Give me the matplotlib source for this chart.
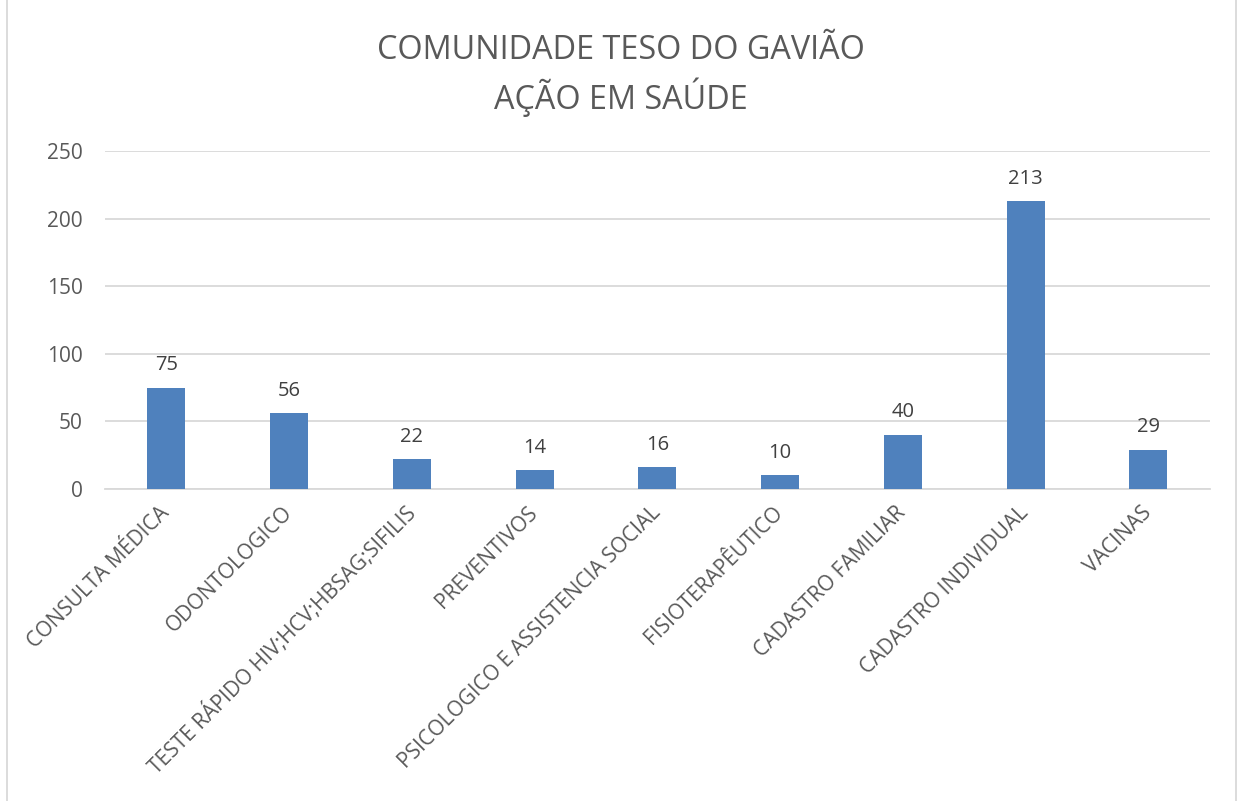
import matplotlib.pyplot as plt
from matplotlib.patches import Rectangle

categories = ['CONSULTA MÉDICA', 'ODONTOLOGICO', 'TESTE RÁPIDO HIV;HCV;HBSAG;SIFILIS',
              'PREVENTIVOS', 'PSICOLOGICO E ASSISTENCIA SOCIAL', 'FISIOTERAPÊUTICO',
              'CADASTRO FAMILIAR', 'CADASTRO INDIVIDUAL', 'VACINAS']
values = [75, 56, 22, 14, 16, 10, 40, 213, 29]
yticks = [0, 50, 100, 150, 200, 250]

plt.rcParams['font.family'] = ['Open Sans', 'DejaVu Sans']
text_color = '#595959'
grid_color = '#d9d9d9'
bar_color = '#4f81bd'

fig = plt.figure(figsize=(12.42, 8.01), dpi=100)
ax = fig.add_axes([0.0845, 0.3895, 0.8895, 0.422])

x = range(len(categories))
bars = ax.bar(x, values, width=0.31, color=bar_color, zorder=3)
for xi, v in zip(x, values):
    ax.annotate(str(v), (xi, v), xytext=(0, 9), textcoords='offset points',
                ha='center', va='bottom', fontsize=14.5, color='#404040')

ax.set_xlim(-0.5, len(categories) - 0.5)
ax.set_ylim(0, 250)
ax.set_yticks(yticks)
ax.set_xticks(list(x))
ax.set_xticklabels(categories, rotation=45, ha='right', va='center',
                   rotation_mode='anchor', fontsize=15.1, color=text_color)
ax.tick_params(axis='y', length=0, labelsize=15, labelcolor=text_color, pad=16)
ax.tick_params(axis='x', length=0, pad=15)
ax.grid(axis='y', color=grid_color, linewidth=1.3, zorder=0)
for s in ['top', 'right', 'left']:
    ax.spines[s].set_visible(False)
ax.spines['bottom'].set_color(grid_color)
ax.spines['bottom'].set_linewidth(1.3)

fig.text(0.5, 0.937, 'COMUNIDADE TESO DO GAVIÃO', ha='center', va='center',
         fontsize=23.3, color=text_color)
fig.text(0.5, 0.878, 'AÇÃO EM SAÚDE', ha='center', va='center',
         fontsize=23.3, color=text_color)

fig.patches.append(Rectangle((0.006, -0.01), 0.989, 1.02, transform=fig.transFigure,
                             fill=False, edgecolor=grid_color, linewidth=1.3))

fig.savefig('out.png', dpi=100, facecolor='white')
